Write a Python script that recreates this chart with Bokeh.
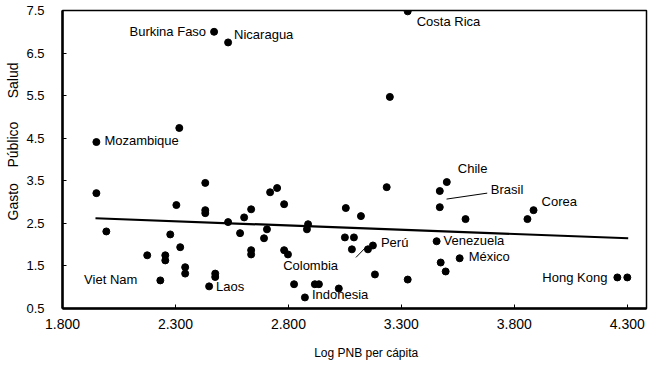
from bokeh.plotting import figure
from bokeh.models import Label, Title, FixedTicker, PrintfTickFormatter, ColumnDataSource
from bokeh.embed import file_html
from bokeh.resources import INLINE

# Log GNP per capita vs public health spending (% of GDP)
log_gnp = [1.950, 1.950, 1.994, 2.471, 2.533, 2.317, 3.328, 3.249, 2.432, 2.304,
           2.432, 2.432, 2.277, 2.321, 2.175, 2.255, 2.255, 2.343, 2.343, 2.233,
           2.449, 2.476, 2.476, 2.719, 2.750, 2.781, 2.635, 2.604, 2.533, 2.887,
           2.882, 2.586, 2.705, 2.692, 2.635, 2.635, 2.781, 2.798, 2.825, 2.917,
           2.935, 2.873, 3.023, 3.235, 3.054, 3.121, 3.050, 3.090, 3.081, 3.152,
           3.174, 3.183, 3.328, 3.456, 3.474, 3.496, 3.558, 3.470, 3.470, 3.501,
           3.584, 3.858, 3.885, 4.256, 4.300]
health_spend = [4.41, 3.21, 2.31, 7.00, 6.75, 4.74, 7.48, 5.47, 3.45, 2.93,
                2.81, 2.74, 2.24, 1.94, 1.75, 1.75, 1.63, 1.47, 1.32, 1.16,
                1.02, 1.32, 1.24, 3.23, 3.33, 2.95, 2.83, 2.64, 2.53, 2.48,
                2.36, 2.27, 2.36, 2.15, 1.87, 1.77, 1.87, 1.77, 1.07, 1.07,
                1.07, 0.76, 0.97, 3.35, 2.86, 2.67, 2.17, 2.17, 1.89, 1.89,
                1.98, 1.30, 1.18, 2.08, 1.58, 1.37, 1.68, 2.88, 3.26, 3.47,
                2.60, 2.60, 2.81, 1.23, 1.23]
countries = ["Mozambique", "", "", "Burkina Faso", "Nicaragua", "", "Costa Rica", "", "", "",
             "", "", "", "", "", "", "", "", "", "Viet Nam",
             "Laos", "", "", "", "", "", "", "", "", "",
             "", "", "", "", "", "", "Colombia", "", "", "",
             "", "Indonesia", "", "", "", "", "", "", "", "",
             "Perú", "", "", "Venezuela", "", "", "México", "Brasil", "", "Chile",
             "", "", "Corea", "Hong Kong", ""]

# Fitted trend line end points
fit_x = [1.946, 4.304]
fit_y = [2.62, 2.15]

x_ticks = [1.8, 2.3, 2.8, 3.3, 3.8, 4.3]
y_ticks = [0.5, 1.5, 2.5, 3.5, 4.5, 5.5, 6.5, 7.5]

NBSP = "\u00a0"
x_title = NBSP * 7 + "Log PNB per cápita"
y_title = "Gasto" + NBSP * 4 + "Público" + NBSP * 6 + "Salud"

# label placement: alignment and pixel offset (dx right, dy up) from the point
label_style = {
    "Burkina Faso": ("right", -8, 0),
    "Nicaragua": ("left", 6, 8),
    "Mozambique": ("left", 8, 2),
    "Costa Rica": ("left", 9, -10),
    "Chile": ("left", 11, 14),
    "Brasil": ("left", 51, 18),
    "Corea": ("left", 8, 9),
    "Venezuela": ("left", 7, 1),
    "México": ("left", 9, 2),
    "Hong Kong": ("right", -10, 0),
    "Perú": ("left", 8, 3),
    "Colombia": ("left", -1, -15),
    "Indonesia": ("left", 7, 3),
    "Laos": ("left", 7, 0),
    "Viet Nam": ("right", -23, 1),
}

# leader lines (country, start delta, end delta) in data units
leaders = [
    ("Brasil", (0.03, 0.19), (0.21, 0.33)),
    ("Perú", (-0.075, -0.28), (-0.031, -0.04)),
]

FONT = "Liberation Sans"

p = figure(width=651, height=365, output_backend="svg", toolbar_location=None,
           x_range=(1.8, 4.385), y_range=(0.5, 7.5),
           min_border_left=61, min_border_right=5, min_border_top=10, min_border_bottom=57)
p.background_fill_color = "white"
p.border_fill_color = "white"
p.outline_line_color = "black"
p.outline_line_width = 1.5
p.grid.visible = False

for ax in (p.xaxis[0], p.yaxis[0]):
    ax.axis_line_width = 2.5
    ax.axis_line_color = "black"
    ax.major_tick_in = 4
    ax.major_tick_out = 0
    ax.minor_tick_in = 0
    ax.minor_tick_out = 0
    ax.major_tick_line_color = "black"
    ax.major_label_text_font = FONT
    ax.major_label_text_color = "black"

p.xaxis.ticker = FixedTicker(ticks=x_ticks)
p.xaxis.formatter = PrintfTickFormatter(format="%.3f")
p.xaxis.major_label_text_font_size = "14px"
p.xaxis.major_label_standoff = 10
p.xaxis.axis_label = x_title
p.xaxis.axis_label_text_font = FONT
p.xaxis.axis_label_text_font_size = "12px"
p.xaxis.axis_label_text_font_style = "normal"
p.xaxis.axis_label_text_color = "black"
p.xaxis.axis_label_standoff = 14

p.yaxis.ticker = FixedTicker(ticks=y_ticks)
p.yaxis.formatter = PrintfTickFormatter(format="%.1f")
p.yaxis.major_label_text_font_size = "13px"
p.yaxis.major_label_standoff = 18

p.line(fit_x, fit_y, line_color="black", line_width=2.2)

src = ColumnDataSource(dict(x=log_gnp, y=health_spend, name=countries))
p.scatter("x", "y", source=src, size=7, fill_color="black", line_color="black")

for name, d0, d1 in leaders:
    i = countries.index(name)
    p.line([log_gnp[i] + d0[0], log_gnp[i] + d1[0]],
           [health_spend[i] + d0[1], health_spend[i] + d1[1]],
           line_color="black", line_width=1)

for i, name in enumerate(countries):
    if not name:
        continue
    align, dx, dy = label_style[name]
    p.add_layout(Label(x=log_gnp[i], y=health_spend[i], text=name, x_offset=dx, y_offset=dy,
                       text_align=align, text_baseline="middle", text_font=FONT,
                       text_font_size="13px", text_color="black"))

# vertical title as a side panel, offset up from the frame's bottom edge
p.add_layout(Title(text=y_title, align="left", offset=88, standoff=5,
                   text_font=FONT, text_font_size="14px", text_font_style="normal",
                   text_color="black"), "left")

open("out.html", "w").write(file_html(p, INLINE))
